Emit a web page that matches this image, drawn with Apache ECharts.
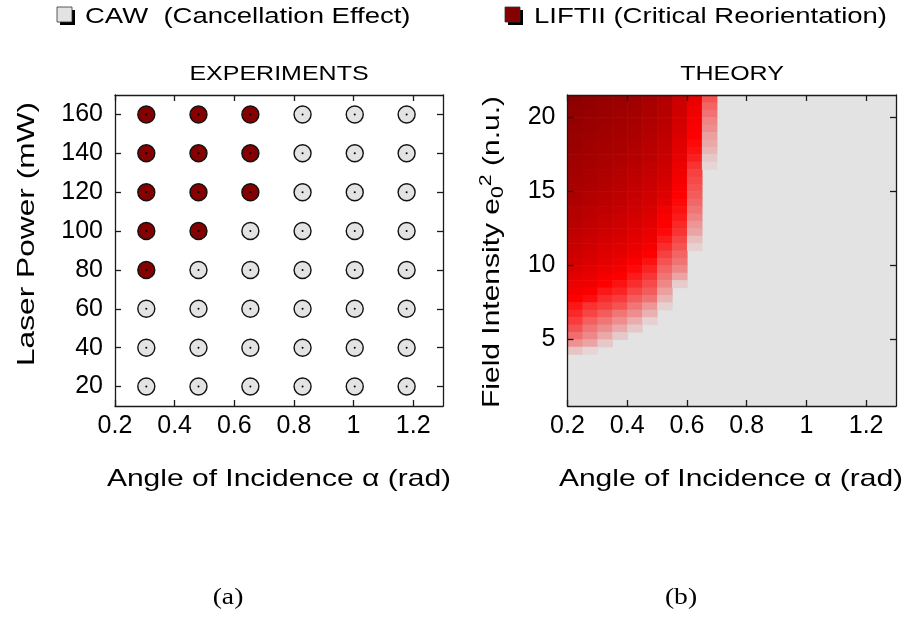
<!DOCTYPE html>
<html><head><meta charset="utf-8">
<script src="https://cdn.jsdelivr.net/npm/echarts@6/dist/echarts.min.js"></script>
<style>html,body{margin:0;padding:0;background:#fff}#c{width:908px;height:619px}</style>
</head><body><div id="c"></div>
<script>
// ---------------- data ----------------
// Experiments
const expAlpha = [0.305, 0.480, 0.654, 0.829, 1.004, 1.178];     // rad
const expPower = [20, 40, 60, 80, 100, 120, 140, 160];             // mW
// one row per power (20 -> 160), one entry per angle; 1 = LIFTII, 0 = CAW
const expOutcome = [
  [0,0,0,0,0,0],
  [0,0,0,0,0,0],
  [0,0,0,0,0,0],
  [1,0,0,0,0,0],
  [1,1,0,0,0,0],
  [1,1,1,0,0,0],
  [1,1,1,0,0,0],
  [1,1,1,0,0,0]
];
// Theory: cell centres
const thAlpha = [0.225, 0.275, 0.325, 0.375, 0.425, 0.475, 0.525, 0.575, 0.625, 0.675];
const thField = [21.25,20.75,20.25,19.75,19.25,18.75,18.25,17.75,17.25,16.75,16.25,15.75,15.25,14.75,
  14.25,13.75,13.25,12.75,12.25,11.75,11.25,10.75,10.25,9.75,9.25,8.75,8.25,7.75,7.25,6.75,6.25,5.75,
  5.25,4.75,4.25,3.75,3.25,2.75,2.25,1.75,1.25,0.75];
// reorientation strength per column, from the top row down (cells not listed = none)
const thCol0 = [98,97,96,95,94,93,92,91,90,89,88,87,86,85,84,82,81,79,77,75,73,71,68,65,62,58,54,50,45,41,37,32,26,18,7];
const thCol1 = [96,95,94,93,92,91,90,89,88,87,86,85,84,82,81,79,78,76,74,72,70,67,65,62,59,56,52,47,39,35,29,24,20,14,3];
const thCol2 = [94,93,92,91,90,89,88,87,86,85,84,83,81,80,78,77,75,73,71,69,66,64,61,58,54,50,45,40,36,30,24,19,13,6];
const thCol3 = [92,91,90,89,88,87,86,85,84,83,81,80,79,77,76,74,72,70,68,66,63,61,58,54,50,46,42,37,32,24,19,13,6];
const thCol4 = [90,89,88,87,86,85,84,82,81,80,78,77,75,74,72,70,68,66,64,62,59,56,52,48,44,40,35,30,24,19,12,6];
const thCol5 = [87,86,85,84,83,82,80,79,78,76,75,73,72,70,68,66,64,62,59,57,54,50,46,42,38,34,30,25,17,11,4];
const thCol6 = [83,82,81,80,78,77,76,74,73,71,70,68,66,64,60,55,52,50,48,44,40,36,32,28,24,20,15,10,4];
const thCol7 = [72,71,70,68,67,65,63,62,60,58,56,54,52,50,48,46,44,41,39,35,32,28,25,20,14,5];
const thCol8 = [60,58,56,54,52,50,48,46,43,39,36,34,32,30,27,24,21,17,14,8,4];
const thCol9 = [32,28,25,21,19,15,13,10,6,3];
const thColumns = [thCol0, thCol1, thCol2, thCol3, thCol4, thCol5, thCol6, thCol7, thCol8, thCol9];
const thCellW = 0.05, thCellH = 0.5;

// tick labels
const xTicks = [0.2, 0.4, 0.6, 0.8, 1, 1.2];
const yTicksExp = [20, 40, 60, 80, 100, 120, 140, 160];
const yTicksTh = [5, 10, 15, 20];

// ---------------- build ----------------
const cawPts = [], liftPts = [], allPts = [];
expPower.forEach((p, i) => expAlpha.forEach((a, j) => {
  (expOutcome[i][j] ? liftPts : cawPts).push([a, p]);
  allPts.push([a, p]);
}));
const heat = [];
thColumns.forEach((col, j) => col.forEach((v, i) => heat.push([thAlpha[j], thField[i], v])));

const SANS = '"Liberation Sans", Arial, sans-serif';
const tickFont = {fontFamily: SANS, fontSize: 25, color: '#000'};
const lineS = {color: '#1a1a1a', width: 1.3};

function xAx(grid, pos, labels, min, max) {
  return {type: 'value', gridIndex: grid, position: pos, min, max, z: 10,
    axisLine: {show: true, onZero: false, lineStyle: lineS},
    axisTick: {show: true, inside: true, length: 6, lineStyle: lineS, customValues: xTicks},
    axisLabel: {show: labels, margin: 8, ...tickFont, customValues: xTicks,
      formatter: v => String(+v.toFixed(2))},
    splitLine: {show: false}};
}
function yAx(grid, pos, labels, min, max, ticks) {
  return {type: 'value', gridIndex: grid, position: pos, min, max, z: 10,
    axisLine: {show: true, onZero: false, lineStyle: lineS},
    axisTick: {show: true, inside: true, length: 6, lineStyle: lineS, customValues: ticks},
    axisLabel: {show: labels, margin: 12, ...tickFont, customValues: ticks},
    splitLine: {show: false}};
}
function txt(x, y, text, size, opts) {
  opts = opts || {};
  return {type: 'text', x, y, rotation: opts.rot || 0, scaleX: opts.sx || 1.25, z: 20,
    style: {text, font: size + 'px ' + (opts.family || SANS), fill: '#000',
      align: opts.align || 'center', verticalAlign: 'middle',
      textAlign: opts.align || 'center', textVerticalAlign: 'middle', rich: opts.rich}};
}

const option = {
  animation: false,
  backgroundColor: '#ffffff',
  grid: [
    {left: 115, top: 95, width: 328, height: 311, show: false},
    {left: 567.5, top: 95, width: 328.5, height: 311, show: true, backgroundColor: '#e3e3e3', borderWidth: 0}
  ],
  xAxis: [
    xAx(0, 'bottom', true, 0.2, 1.3), xAx(0, 'top', false, 0.2, 1.3),
    xAx(1, 'bottom', true, 0.2, 1.3), xAx(1, 'top', false, 0.2, 1.3)
  ],
  yAxis: [
    yAx(0, 'left', true, 10, 170, yTicksExp), yAx(0, 'right', false, 10, 170, yTicksExp),
    yAx(1, 'left', true, 0.5, 21.5, yTicksTh), yAx(1, 'right', false, 0.5, 21.5, yTicksTh)
  ],
  visualMap: {show: false, type: 'continuous', min: 0, max: 100, dimension: 2, seriesIndex: 3,
    inRange: {color: ['#e3e3e3', '#ff0000', '#880000']}},
  series: [
    {name: 'CAW  (Cancellation Effect)', type: 'scatter', xAxisIndex: 0, yAxisIndex: 0, data: cawPts,
      symbol: 'circle', symbolSize: 17, z: 3,
      itemStyle: {color: '#e3e3e3', borderColor: '#111', borderWidth: 1.4, opacity: 1}},
    {name: 'LIFTII (Critical Reorientation)', type: 'scatter', xAxisIndex: 0, yAxisIndex: 0, data: liftPts,
      symbol: 'circle', symbolSize: 17, z: 3,
      itemStyle: {color: '#850000', borderColor: '#111', borderWidth: 1.4, opacity: 1}},
    {name: 'centre', type: 'scatter', xAxisIndex: 0, yAxisIndex: 0, data: allPts,
      symbol: 'circle', symbolSize: 2, z: 4, itemStyle: {color: '#000', opacity: 1}},
    {name: 'theory', type: 'custom', xAxisIndex: 2, yAxisIndex: 2, data: heat, clip: true, z: 2,
      renderItem: function (params, api) {
        const a = api.value(0), e = api.value(1);
        const p0 = api.coord([a - thCellW / 2, e + thCellH / 2]);
        const p1 = api.coord([a + thCellW / 2, e - thCellH / 2]);
        return {type: 'rect',
          shape: {x: p0[0], y: p0[1], width: p1[0] - p0[0] + 0.6, height: p1[1] - p0[1] + 0.6},
          style: {fill: api.visual('color')}};
      }}
  ],
  graphic: [
    // legend entries
    {type: 'rect', shape: {x: 60, y: 10, width: 15, height: 15}, style: {fill: '#000'}},
    {type: 'rect', shape: {x: 57, y: 7, width: 15, height: 15}, style: {fill: '#e3e3e3', stroke: '#333', lineWidth: 0.8}},
    txt(85, 17, 'CAW  (Cancellation Effect)', 22, {align: 'left'}),
    {type: 'rect', shape: {x: 508, y: 10, width: 15, height: 15}, style: {fill: '#000'}},
    {type: 'rect', shape: {x: 505, y: 7, width: 15, height: 15}, style: {fill: '#850000', stroke: '#333', lineWidth: 0.8}},
    txt(534, 17, 'LIFTII (Critical Reorientation)', 22, {align: 'left'}),
    // titles
    txt(279, 74, 'EXPERIMENTS', 20),
    txt(732, 74, 'THEORY', 20),
    // axis names
    txt(279, 479, 'Angle of Incidence α (rad)', 24),
    txt(731, 479, 'Angle of Incidence α (rad)', 24),
    txt(27, 234, 'Laser Power (mW)', 24, {rot: Math.PI / 2, sx: 1.32}),
    txt(492, 252, 'Field Intensity e{sub|0}{sup|2} (n.u.)', 24, {rot: Math.PI / 2,
      rich: {sub: {fontSize: 17, fontFamily: SANS, verticalAlign: 'bottom', padding: [10, 0, 0, 0]},
             sup: {fontSize: 17, fontFamily: SANS, verticalAlign: 'top', padding: [0, 0, 12, 0]}}}),
    // panel labels
    txt(228, 598, '(a)', 24, {family: '"Liberation Serif", "Times New Roman", serif', sx: 1.15}),
    txt(681, 598, '(b)', 24, {family: '"Liberation Serif", "Times New Roman", serif', sx: 1.15})
  ]
};
const chart = echarts.init(document.getElementById('c'), null, {renderer: 'canvas'});
chart.setOption(option);
</script></body></html>
